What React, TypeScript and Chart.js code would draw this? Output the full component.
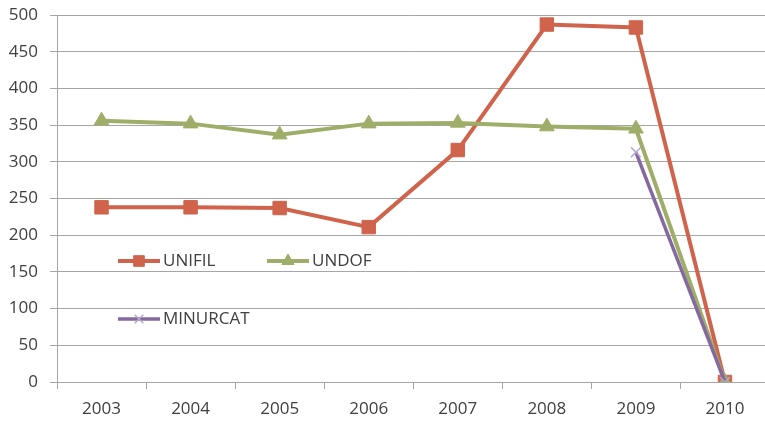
import React, { useEffect, useRef } from "react";
import { Chart, registerables } from "chart.js";
import { drawPoint } from "chart.js/helpers";

Chart.register(...registerables);

const years = ["2003", "2004", "2005", "2006", "2007", "2008", "2009", "2010"];
const unifil = [238, 238, 237, 211, 316, 487, 483, 0];
const undof = [356, 352, 337, 352, 353, 348, 345, 0];
const minurcat = [null, null, null, null, null, null, 313, 0];
const yTicks = [0, 50, 100, 150, 200, 250, 300, 350, 400, 450, 500];

const FONT = "'Open Sans', 'Liberation Sans', sans-serif";
const C_UNIFIL = "#D0634B";
const C_UNDOF = "#9EAE68";
const C_MINURCAT = "#8469A0";

const legendPlugin = {
  id: "insideLegend",
  afterDraw(chart: any) {
    const ctx = chart.ctx;
    const spots = [
      { i: 0, x: 118, y: 261, r: 7.5 },
      { i: 1, x: 267, y: 261, r: 7 },
      { i: 2, x: 118, y: 319, r: 6 },
    ];
    ctx.save();
    for (const s of spots) {
      const ds = chart.data.datasets[s.i];
      ctx.strokeStyle = ds.borderColor;
      ctx.lineWidth = ds.borderWidth;
      ctx.beginPath();
      ctx.moveTo(s.x, s.y);
      ctx.lineTo(s.x + 42, s.y);
      ctx.stroke();
      ctx.fillStyle = ds.pointBackgroundColor;
      ctx.strokeStyle = ds.pointBorderColor;
      ctx.lineWidth = ds.pointBorderWidth ?? 1;
      drawPoint(
        ctx,
        { pointStyle: ds.pointStyle, rotation: 0, radius: s.r, borderWidth: ds.pointBorderWidth ?? 1 } as any,
        s.x + 21,
        s.y
      );
      ctx.fillStyle = "#404040";
      ctx.font = `17px ${FONT}`;
      ctx.textBaseline = "middle";
      ctx.textAlign = "left";
      ctx.fillText(ds.label, s.x + 45, s.y);
    }
    ctx.restore();
  },
};

export default function App() {
  const ref = useRef<HTMLCanvasElement>(null);
  useEffect(() => {
    if (!ref.current) return;
    const chart = new Chart(ref.current, {
      type: "line",
      data: {
        labels: years,
        datasets: [
          {
            label: "UNIFIL",
            data: unifil,
            borderColor: C_UNIFIL,
            backgroundColor: C_UNIFIL,
            pointBackgroundColor: C_UNIFIL,
            pointBorderColor: C_UNIFIL,
            borderWidth: 4,
            pointStyle: "rect",
            pointRadius: 9.5,
            pointBorderWidth: 1,
            tension: 0,
            order: 3,
          },
          {
            label: "UNDOF",
            data: undof,
            borderColor: C_UNDOF,
            backgroundColor: C_UNDOF,
            pointBackgroundColor: C_UNDOF,
            pointBorderColor: C_UNDOF,
            borderWidth: 4,
            pointStyle: "triangle",
            pointRadius: 8.5,
            pointBorderWidth: 1,
            tension: 0,
            order: 2,
          },
          {
            label: "MINURCAT",
            data: minurcat,
            borderColor: C_MINURCAT,
            backgroundColor: C_MINURCAT,
            pointBackgroundColor: C_MINURCAT,
            pointBorderColor: "#B7A6C9",
            borderWidth: 3.5,
            pointStyle: "crossRot",
            pointRadius: 7,
            pointBorderWidth: 1.5,
            tension: 0,
            order: 1,
          },
        ] as any,
      },
      options: {
        responsive: false,
        animation: false,
        layout: { padding: { top: 15, right: 9, left: 0, bottom: 0 } },
        plugins: {
          legend: { display: false },
          tooltip: { enabled: false },
        },
        scales: {
          x: {
            offset: true,
            grid: {
              offset: true,
              drawOnChartArea: false,
              drawTicks: true,
              tickLength: 7,
              color: "#A6A6A6",
            },
            border: { color: "#A6A6A6", width: 1 },
            ticks: {
              color: "#404040",
              font: { family: FONT, size: 17 },
              padding: 10,
              maxRotation: 0,
            },
            afterFit: (s: any) => {
              s.height = 42;
              s.paddingLeft = 0;
              s.paddingRight = 0;
            },
          },
          y: {
            min: 0,
            max: 500,
            afterBuildTicks: (s: any) => {
              s.ticks = yTicks.map((v) => ({ value: v }));
            },
            grid: {
              color: "#A6A6A6",
              tickLength: 7,
            },
            border: { color: "#A6A6A6", width: 1 },
            ticks: {
              color: "#404040",
              font: { family: FONT, size: 17 },
              padding: 12,
            },
            afterFit: (s: any) => {
              s.width = 57;
              s.paddingTop = 0;
              s.paddingBottom = 0;
            },
          },
        },
      },
      plugins: [legendPlugin],
    });
    return () => chart.destroy();
  }, []);
  return (
    <div
      style={{
        position: "fixed",
        left: 0,
        top: 0,
        width: 765,
        height: 424,
        overflow: "hidden",
        background: "#fff",
      }}
    >
      <canvas ref={ref} width={780} height={424} style={{ width: 780, height: 424, display: "block" }} />
    </div>
  );
}
